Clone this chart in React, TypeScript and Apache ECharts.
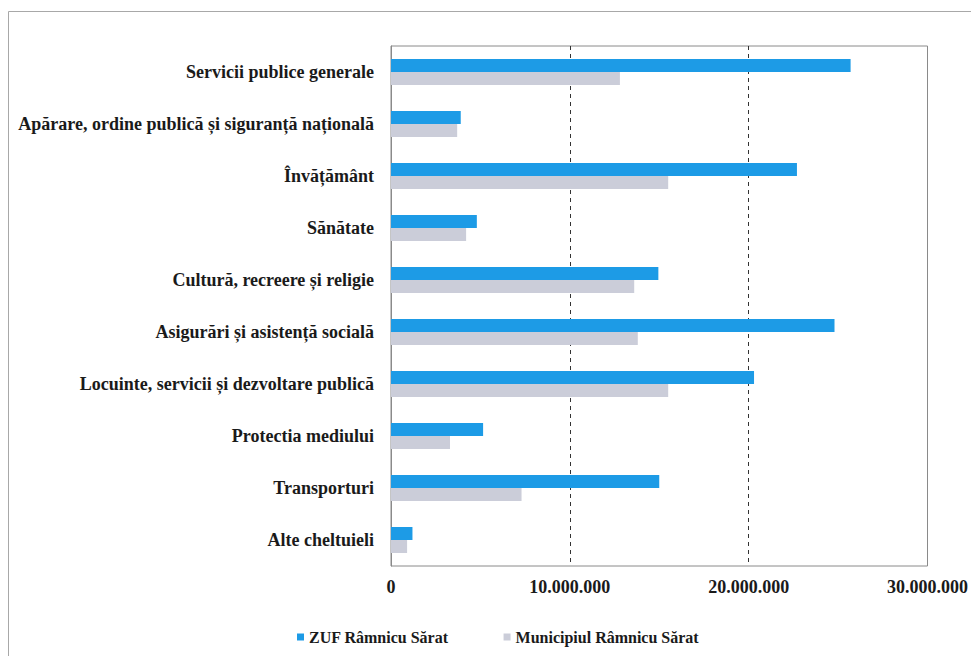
import React, { useEffect, useRef } from "react";
import * as echarts from "echarts";

const categories = [
  "Servicii publice generale",
  "Apărare, ordine publică și siguranță națională",
  "Învățământ",
  "Sănătate",
  "Cultură, recreere și religie",
  "Asigurări și asistență socială",
  "Locuinte, servicii și dezvoltare publică",
  "Protectia mediului",
  "Transporturi",
  "Alte cheltuieli",
];
const zufValues = [25700000, 3900000, 22700000, 4800000, 14950000, 24800000, 20300000, 5150000, 15000000, 1200000];
const munValues = [12800000, 3700000, 15500000, 4200000, 13600000, 13800000, 15500000, 3300000, 7300000, 900000];
const seriesNames = ["ZUF Râmnicu Sărat", "Municipiul Râmnicu Sărat"];
const axisMax = 30000000;
const axisInterval = 10000000;

const FONT = "Liberation Serif";

function fmt(v: number): string {
  return String(Math.round(v)).replace(/\B(?=(\d{3})+(?!\d))/g, ".");
}

export default function App() {
  const ref = useRef<HTMLDivElement>(null);
  useEffect(() => {
    if (!ref.current) return;
    const chart = echarts.init(ref.current, undefined, { renderer: "svg" });
    chart.setOption({
      animation: false,
      backgroundColor: "#ffffff",
      textStyle: { fontFamily: FONT },
      graphic: [
        {
          type: "rect",
          shape: { x: 8.5, y: 11.5, width: 1000, height: 1000 },
          style: { fill: "none", stroke: "#a8a8a8", lineWidth: 1 },
          silent: true,
        },
      ],
      grid: {
        left: 391,
        right: 42,
        top: 46,
        bottom: 90,
        show: true,
        borderColor: "#8a8a8a",
        borderWidth: 1,
        backgroundColor: "transparent",
      },
      legend: {
        left: 292,
        top: 624,
        icon: "rect",
        itemWidth: 7,
        itemHeight: 7,
        itemGap: 55,
        textStyle: { fontFamily: FONT, fontWeight: "bold", fontSize: 16, color: "#1a1a1a" },
        data: seriesNames,
      },
      xAxis: {
        type: "value",
        min: 0,
        max: axisMax,
        interval: axisInterval,
        axisLine: { show: false },
        axisTick: { show: false },
        axisLabel: {
          formatter: (v: number) => fmt(v),
          fontFamily: FONT,
          fontWeight: "bold",
          fontSize: 18,
          color: "#1a1a1a",
          margin: 12,
        },
        splitLine: {
          show: true,
          showMinLine: false,
          showMaxLine: false,
          lineStyle: { type: [4, 4], color: "#333333", width: 1 },
        },
      },
      yAxis: {
        type: "category",
        inverse: true,
        data: categories,
        axisLine: { show: true, lineStyle: { color: "#8a8a8a" } },
        axisTick: { show: false },
        axisLabel: {
          fontFamily: FONT,
          fontWeight: "bold",
          fontSize: 18,
          color: "#1a1a1a",
          margin: 17,
        },
      },
      series: [
        {
          name: seriesNames[0],
          type: "bar",
          data: zufValues,
          barWidth: 13,
          barGap: "0%",
          itemStyle: { color: "#1d9be6" },
        },
        {
          name: seriesNames[1],
          type: "bar",
          data: munValues,
          barWidth: 13,
          barGap: "0%",
          itemStyle: { color: "#cbcdd9" },
        },
      ],
    });
    return () => chart.dispose();
  }, []);
  return (
    <div
      ref={ref}
      style={{ position: "absolute", left: 0, top: 0, width: 971, height: 656 }}
    />
  );
}
